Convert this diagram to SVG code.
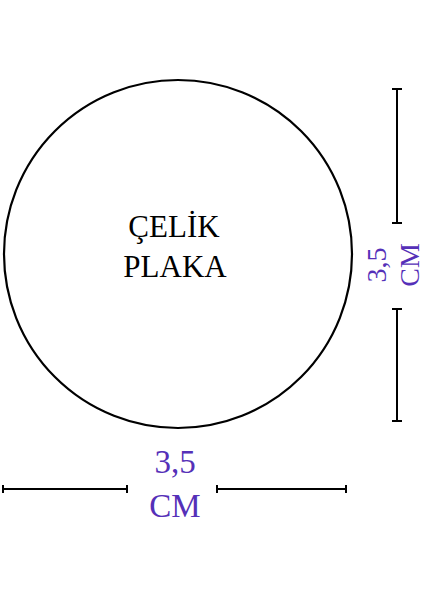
<svg xmlns="http://www.w3.org/2000/svg" width="424" height="600" viewBox="0 0 424 600">
<style>
.lbl{font-family:"Liberation Serif","Times New Roman",serif;fill:#000;font-size:31px;text-anchor:middle}
.dim{font-family:"Liberation Serif","Times New Roman",serif;fill:#5530b8;font-size:33px;text-anchor:middle}
.dimv{font-family:"Liberation Serif","Times New Roman",serif;fill:#5530b8;font-size:28px;text-anchor:middle}
.ln{stroke:#000;stroke-width:2;fill:none}
</style>
<rect width="424" height="600" fill="#fff"/>
<g id="plate">
<circle cx="178" cy="254" r="174" fill="#fff" stroke="#000" stroke-width="2.2"/>
<text class="lbl" x="174" y="237">ÇELİK</text>
<text class="lbl" x="175" y="277">PLAKA</text>
</g>
<g id="connectors">
<path class="ln" d="M397 89V223M392 89H402M392 223H402"/>
<path class="ln" d="M397 309V421M392 309H402M392 421H402"/>
<path class="ln" d="M3 489H127M3 485V493M127 485V493"/>
<path class="ln" d="M217 489H346M217 485V493M346 485V493"/>
</g>
<g id="dim-h">
<text class="dim" x="175" y="473">3,5</text>
<text class="dim" x="175" y="517">CM</text>
</g>
<g id="dim-v">
<text class="dimv" transform="translate(386 265) rotate(-90)">3,5</text>
<text class="dimv" transform="translate(419 265) rotate(-90)">CM</text>
</g>
</svg>
